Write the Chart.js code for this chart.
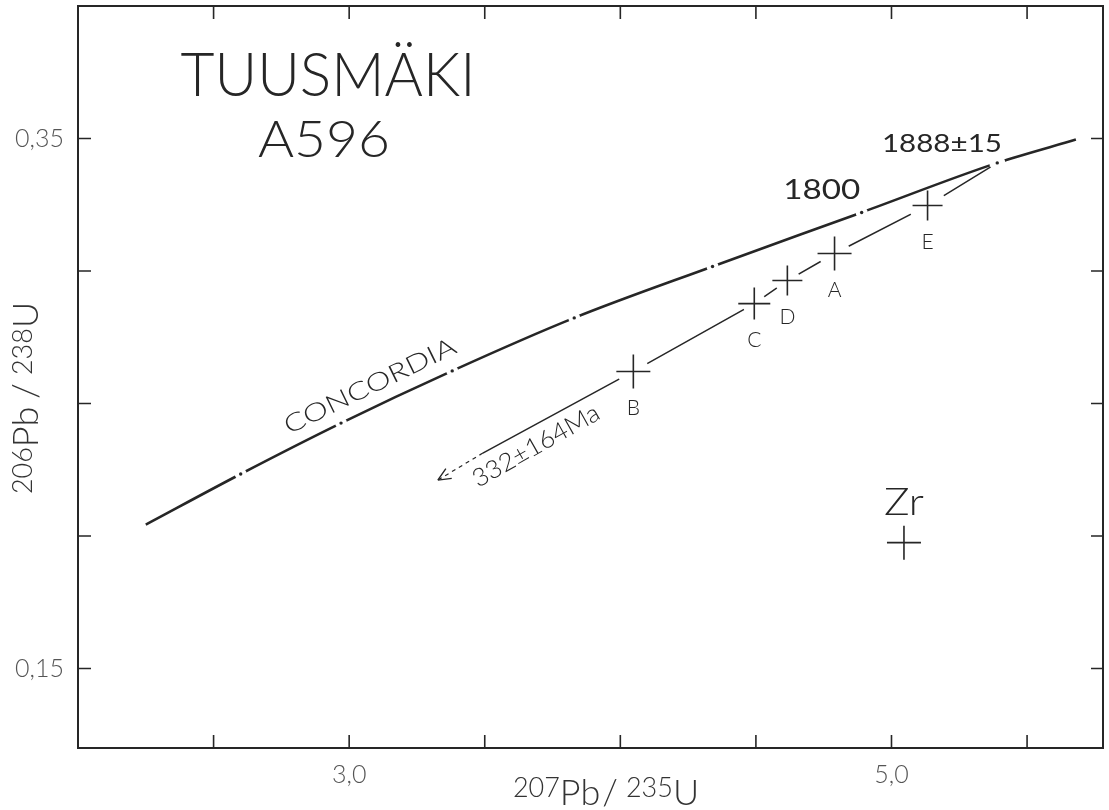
<!DOCTYPE html>
<html>
<head>
<meta charset="utf-8">
<title>Tuusmäki A596</title>
<script src="https://cdn.jsdelivr.net/npm/chart.js@4.4.0/dist/chart.umd.min.js"></script>
<style>
  body { margin: 0; background: #fff; }
  #wrap { width: 1109px; height: 810px; }
</style>
</head>
<body>
<div id="wrap"><canvas id="concordiaChart"></canvas></div>
<script>
// U-Pb concordia diagram, Tuusmäki A596 zircons

// concordia curve (second last point = 1888 Ma intercept)
const concordiaX = [2.25, 2.60, 2.97, 3.38, 3.83, 4.34, 4.89, 5.39, 5.68];
const concordiaY = [0.2043, 0.2234, 0.2426, 0.2623, 0.2823, 0.3017, 0.3221, 0.3408, 0.3496];
// age marks on the curve (1300 .. 1800 Ma, then the intercept)
const ageMarkX = [2.60, 2.97, 3.38, 3.83, 4.34, 4.89, 5.39];
const ageMarkY = [0.2234, 0.2426, 0.2623, 0.2823, 0.3017, 0.3221, 0.3408];

// zircon fractions
const fractionNames = ["E", "A", "D", "C", "B"];
const fractionX = [5.133, 4.790, 4.616, 4.494, 4.048];
const fractionY = [0.3247, 0.3066, 0.2964, 0.2877, 0.2621];
const zrX = [5.046];
const zrY = [0.1975];

// discordia: upper intercept, then lower end of solid part and arrow tip
const upperX = 5.39;
const upperY = 0.3408;
const discordiaEndX = [3.493, 3.327];
const discordiaEndY = [0.2313, 0.2211];

// axes
const xMin = 2.0, xMax = 5.78;
const yMin = 0.12, yMax = 0.40;
const xTicks = [2.5, 3.0, 3.5, 4.0, 4.5, 5.0, 5.5];
const yTicks = [0.15, 0.20, 0.25, 0.30, 0.35];
const xLabelled = [3.0, 5.0];
const yLabelled = [0.15, 0.35];

const labelFont = "Lato, 'DejaVu Sans', sans-serif";
const ink = "#262626";

const toPoints = (xs, ys) => xs.map((v, i) => ({ x: v, y: ys[i] }));

const concordiaData = toPoints(concordiaX, concordiaY);
const discordiaData = [{ x: upperX, y: upperY }]
  .concat(toPoints(fractionX, fractionY))
  .concat([{ x: discordiaEndX[0], y: discordiaEndY[0] }]);
const dashedData = toPoints(discordiaEndX, discordiaEndY);

function drawLabel(ctx, text, px, py, size, rot, fitWidth, weight) {
  ctx.save();
  ctx.translate(px, py);
  ctx.rotate((rot || 0) * Math.PI / 180);
  ctx.font = `${weight || 300} ${size}px ${labelFont}`;
  ctx.textAlign = "center";
  ctx.textBaseline = "middle";
  if (fitWidth) {
    const w = ctx.measureText(text).width;
    ctx.scale(fitWidth / w, 1);
  }
  ctx.fillText(text, 0, 0);
  ctx.restore();
}

// text like 207Pb / 235U with raised mass numbers
function drawIsotopeTitle(ctx, parts, cx, baseY) {
  ctx.save();
  ctx.textBaseline = "alphabetic";
  ctx.textAlign = "left";
  let total = 0;
  parts.forEach(p => {
    ctx.font = `300 ${p.size}px ${labelFont}`;
    p.w = ctx.measureText(p.t).width;
    total += p.w + (p.gap || 0);
  });
  let x = cx - total / 2;
  parts.forEach(p => {
    ctx.font = `300 ${p.size}px ${labelFont}`;
    ctx.fillText(p.t, x, baseY + (p.dy || 0));
    x += p.w + (p.gap || 0);
  });
  ctx.restore();
}

const annotations = [
  { t: "TUUSMÄKI", x: 2.922, y: 0.3736, size: 62, w: 295 },
  { t: "A596", x: 2.907, y: 0.3494, size: 52, w: 132 },
  { t: "1888±15", x: 5.186, y: 0.3479, size: 25, w: 120, weight: 400 },
  { t: "1800", x: 4.743, y: 0.3306, size: 27, w: 77, weight: 400 },
  { t: "CONCORDIA", x: 3.077, y: 0.2566, size: 25, w: 188, rot: -26 },
  { t: "332±164Ma", x: 3.689, y: 0.2340, size: 25, w: 142, rot: -29.5 },
  { t: "Zr", x: 5.046, y: 0.2125, size: 38, w: 40 }
];

const framePlugin = {
  id: "frame",
  afterDraw(chart) {
    const { ctx, chartArea: a, scales: { x, y } } = chart;
    ctx.save();
    ctx.strokeStyle = ink;
    ctx.lineWidth = 2;
    ctx.strokeRect(a.left, a.top, a.right - a.left, a.bottom - a.top);

    // inward ticks on all four sides
    ctx.lineWidth = 1.6;
    ctx.beginPath();
    xTicks.forEach(v => {
      const px = x.getPixelForValue(v);
      ctx.moveTo(px, a.bottom);
      ctx.lineTo(px, a.bottom - 13);
      ctx.moveTo(px, a.top);
      ctx.lineTo(px, a.top + 13);
    });
    yTicks.forEach(v => {
      const py = y.getPixelForValue(v);
      ctx.moveTo(a.left, py);
      ctx.lineTo(a.left + 13, py);
      ctx.moveTo(a.right, py);
      ctx.lineTo(a.right - 12, py);
    });
    ctx.stroke();

    // arrow head on the dashed lower part of the discordia
    const from = { x: x.getPixelForValue(discordiaEndX[0]), y: y.getPixelForValue(discordiaEndY[0]) };
    const tip = { x: x.getPixelForValue(discordiaEndX[1]), y: y.getPixelForValue(discordiaEndY[1]) };
    const ang = Math.atan2(from.y - tip.y, from.x - tip.x);
    ctx.lineWidth = 1.4;
    ctx.beginPath();
    [-0.42, 0.42].forEach(d => {
      ctx.moveTo(tip.x, tip.y);
      ctx.lineTo(tip.x + 14 * Math.cos(ang + d), tip.y + 14 * Math.sin(ang + d));
    });
    ctx.stroke();

    // texts
    ctx.fillStyle = ink;
    annotations.forEach(n => {
      drawLabel(ctx, n.t, x.getPixelForValue(n.x), y.getPixelForValue(n.y),
        n.size, n.rot, n.w, n.weight);
    });
    const meta = chart.getDatasetMeta(0);
    meta.data.forEach((pt, i) => {
      drawLabel(ctx, fractionNames[i], pt.x, pt.y + 37, 21, 0, null, 300);
    });

    // axis titles
    ctx.fillStyle = "#333";
    drawIsotopeTitle(ctx, [
      { t: "207", size: 27, dy: -8 },
      { t: "Pb", size: 36, gap: 2 },
      { t: "/", size: 36, gap: 8 },
      { t: "235", size: 27, dy: -8 },
      { t: "U", size: 36 }
    ], 606, 805);
    ctx.save();
    ctx.translate(38, 398);
    ctx.rotate(-Math.PI / 2);
    drawIsotopeTitle(ctx, [
      { t: "206", size: 27, dy: -6 },
      { t: "Pb", size: 36, gap: 8 },
      { t: "/", size: 36, gap: 8 },
      { t: "238", size: 27, dy: -6 },
      { t: "U", size: 36 }
    ], 0, 0);
    ctx.restore();
    ctx.restore();
  }
};

new Chart(document.getElementById("concordiaChart"), {
  type: "scatter",
  data: {
    datasets: [
      {
        // fractions, drawn on top
        data: toPoints(fractionX, fractionY),
        pointStyle: "cross",
        pointRadius: [15, 17, 15, 16, 17],
        borderColor: ink,
        borderWidth: 1.6,
        order: 0
      },
      {
        data: toPoints(zrX, zrY),
        pointStyle: "cross",
        pointRadius: 17,
        borderColor: ink,
        borderWidth: 1.6,
        order: 0
      },
      {
        // small dots at the age marks
        data: toPoints(ageMarkX, ageMarkY),
        pointRadius: 1.7,
        backgroundColor: ink,
        borderWidth: 0,
        order: 0
      },
      {
        // concordia with white gaps at the age marks
        data: concordiaData,
        showLine: true,
        borderColor: ink,
        borderWidth: 2.6,
        cubicInterpolationMode: "monotone",
        pointRadius: [0, 6, 6, 6, 6, 6, 6, 8, 0],
        pointBackgroundColor: "#fff",
        pointBorderWidth: 0,
        order: 1
      },
      {
        // discordia, broken around each fraction
        data: discordiaData,
        showLine: true,
        borderColor: ink,
        borderWidth: 1.5,
        tension: 0,
        pointRadius: [0, 19, 16, 13, 12, 16, 0],
        pointBackgroundColor: "#fff",
        pointBorderWidth: 0,
        order: 2
      },
      {
        data: dashedData,
        showLine: true,
        borderColor: ink,
        borderWidth: 1.2,
        borderDash: [4, 4],
        pointRadius: 0,
        order: 2
      }
    ]
  },
  options: {
    responsive: true,
    maintainAspectRatio: false,
    animation: false,
    // big cross markers would otherwise push the frame inwards
    layout: { autoPadding: false, padding: { top: 6, right: 6, left: 0, bottom: 0 } },
    plugins: {
      legend: { display: false },
      tooltip: { enabled: false }
    },
    scales: {
      x: {
        type: "linear",
        min: xMin,
        max: xMax,
        grid: { display: false, drawTicks: false },
        border: { display: false },
        afterBuildTicks: s => { s.ticks = xTicks.map(v => ({ value: v })); },
        afterFit: s => { s.height = 62; s.paddingLeft = 0; s.paddingRight = 0; },
        ticks: {
          padding: 12,
          color: "#555",
          font: { family: labelFont, size: 25, weight: 300 },
          maxRotation: 0,
          autoSkip: false,
          callback: v => xLabelled.includes(v) ? v.toFixed(1).replace(".", ",") : ""
        }
      },
      y: {
        type: "linear",
        min: yMin,
        max: yMax,
        grid: { display: false, drawTicks: false },
        border: { display: false },
        afterBuildTicks: s => { s.ticks = yTicks.map(v => ({ value: v })); },
        afterFit: s => { s.width = 78; s.paddingTop = 0; s.paddingBottom = 0; },
        ticks: {
          padding: 14,
          color: "#555",
          font: { family: labelFont, size: 25, weight: 300 },
          autoSkip: false,
          callback: v => yLabelled.some(t => Math.abs(t - v) < 1e-9) ? v.toFixed(2).replace(".", ",") : ""
        }
      }
    }
  },
  plugins: [framePlugin]
});
</script>
</body>
</html>
